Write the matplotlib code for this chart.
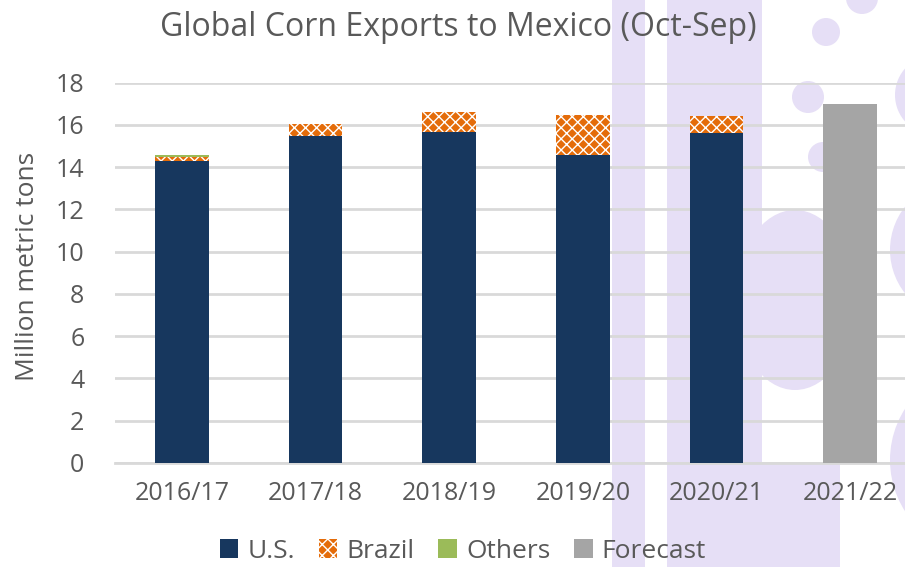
import matplotlib
matplotlib.use("Agg")
import matplotlib.pyplot as plt
from matplotlib.patches import Rectangle, Circle, Ellipse, Patch
import numpy as np

plt.rcParams['font.family'] = ['Open Sans', 'DejaVu Sans']
plt.rcParams['hatch.linewidth'] = 1.0

categories = ["2016/17", "2017/18", "2018/19", "2019/20", "2020/21", "2021/22"]
us = [14.31, 15.50, 15.69, 14.56, 15.62, 0]
brazil = [0.17, 0.56, 0.90, 1.92, 0.79, 0]
others = [0.11, 0, 0, 0, 0, 0]
forecast = [0, 0, 0, 0, 0, 17.0]
yticks = [0, 2, 4, 6, 8, 10, 12, 14, 16, 18]

W, H = 905, 567
fig = plt.figure(figsize=(W / 100, H / 100), dpi=100)

# watermark background (pixel coordinates)
bg = fig.add_axes([0, 0, 1, 1], zorder=0)
bg.set_xlim(0, W)
bg.set_ylim(H, 0)
bg.axis('off')
lav = '#e6dff6'
bg.add_patch(Rectangle((612, 0), 33, H, color=lav, lw=0))
bg.add_patch(Rectangle((667, 0), 95, H, color=lav, lw=0))
bg.add_patch(Ellipse((795, 300), 120, 180, color=lav, lw=0))
bg.add_patch(Rectangle((743, 463), 97, H - 463, color=lav, lw=0))
for cx, cy, r in [(826, 32, 14), (808, 97, 16), (823, 157, 15), (862, -2, 16)]:
    bg.add_patch(Circle((cx, cy), r, color=lav, lw=0))
bg.add_patch(Circle((935, 95), 40, color=lav, lw=0))
bg.add_patch(Circle((960, 250), 70, color=lav, lw=0))
bg.add_patch(Circle((985, 460), 95, color=lav, lw=0))

ax = fig.add_axes([115 / W, 1 - 463 / H, (917 - 115) / W, (463 - 82.7) / H], zorder=1)
ax.set_facecolor('none')
x = np.arange(len(categories))
bw = 0.4
navy = '#17375e'
orange = '#e46c0a'
green = '#9bbb59'
gray = '#a5a5a5'

ax.bar(x, us, bw, color=navy, zorder=3)
ax.bar(x, brazil, bw, bottom=us, color=orange, edgecolor='white', hatch='xxx', linewidth=0, zorder=3)
bot2 = [a + b for a, b in zip(us, brazil)]
ax.bar(x, others, bw, bottom=bot2, color=green, linewidth=0, zorder=3)
ax.bar(x, forecast, bw, color=gray, zorder=3)

ax.set_xlim(-0.5, 5.5)
ax.set_ylim(0, 18)
ax.set_yticks(yticks)
ax.set_xticks(x)
ax.set_xticklabels(categories)
ax.yaxis.grid(True, color='#d9d9d9', linewidth=2, zorder=0)
ax.set_axisbelow(True)
for s in ['top', 'right', 'left']:
    ax.spines[s].set_visible(False)
ax.spines['bottom'].set_color('#d9d9d9')
ax.spines['bottom'].set_linewidth(2)
ax.tick_params(axis='both', length=0, labelsize=18, labelcolor='#595959')
ax.tick_params(axis='y', pad=22)
ax.tick_params(axis='x', pad=13)

fig.text(458 / W, 1 - 27 / H, "Global Corn Exports to Mexico (Oct-Sep)", ha='center', va='center',
         fontsize=23, color='#595959')
fig.text(28 / W, 1 - 266 / H, "Million metric tons", rotation=90, ha='center', va='center',
         fontsize=19, color='#595959')

handles = [Patch(facecolor=navy), Patch(facecolor=orange, edgecolor='white', hatch='xxx', linewidth=0),
           Patch(facecolor=green), Patch(facecolor=gray)]
labels = ["U.S.", "Brazil", "Others", "Forecast"]
fig.legend(handles, labels, loc='center', bbox_to_anchor=(463 / W, 1 - 551 / H), ncol=4, frameon=False,
           fontsize=19, labelcolor='#595959', handlelength=0.7, handleheight=0.7, handletextpad=0.35,
           columnspacing=0.9, borderpad=0)

fig.savefig('out.png', dpi=100)
